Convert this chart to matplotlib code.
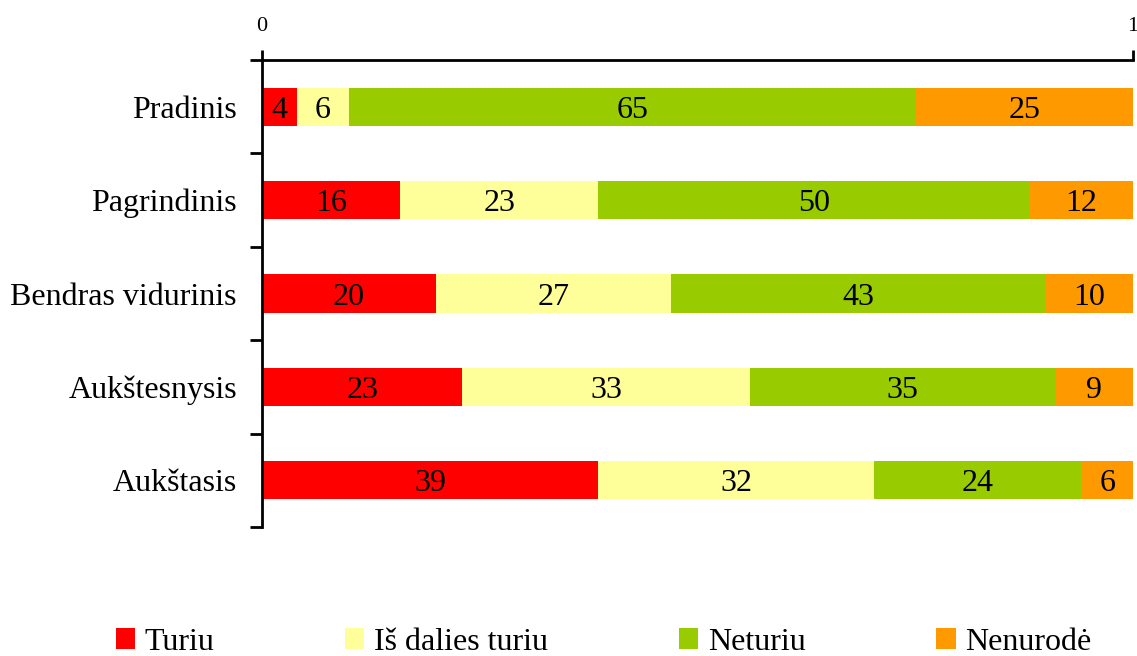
import numpy as np
import matplotlib.pyplot as plt
from matplotlib.patches import Patch

plt.rcParams['font.family'] = ['Liberation Serif', 'DejaVu Serif']

categories = ['Pradinis', 'Pagrindinis', 'Bendras vidurinis', 'Aukštesnysis', 'Aukštasis']
series_names = ['Turiu', 'Iš dalies turiu', 'Neturiu', 'Nenurodė']
turiu = [4, 16, 20, 23, 39]
is_dalies = [6, 23, 27, 33, 32]
neturiu = [65, 50, 43, 35, 24]
nenurode = [25, 12, 10, 9, 6]
colors = ['#FF0000', '#FFFF99', '#99CC00', '#FF9900']

values = np.array([turiu, is_dalies, neturiu, nenurode], dtype=float)
totals = values.sum(axis=0)
shares = values / totals

fig = plt.figure(figsize=(11.37, 6.56), dpi=100)
ax = fig.add_axes([262 / 1137, 1 - 527 / 656, (1133 - 262) / 1137, (527 - 60) / 656])

y = np.arange(len(categories))
left = np.zeros(len(categories))
for i in range(len(series_names)):
    ax.barh(y, shares[i], left=left, height=0.41, color=colors[i], edgecolor='none')
    for j in range(len(categories)):
        ax.text(left[j] + shares[i][j] / 2, y[j], '%d' % values[i][j],
                ha='center', va='center_baseline', fontsize=23, color='black')
    left += shares[i]

ax.set_xlim(0, 1)
ax.set_ylim(len(categories) - 0.5, -0.5)

ax.xaxis.tick_top()
ax.set_xticks([0, 1])
ax.set_xticklabels(['0', '1'], fontsize=16)
ax.tick_params(axis='x', direction='out', length=7, width=2, pad=10)

ax.set_yticks(np.arange(-0.5, len(categories) + 0.5, 1))
ax.set_yticklabels([])
ax.set_yticks(y, minor=True)
ax.set_yticklabels(categories, minor=True, fontsize=23)
ax.tick_params(axis='y', which='major', direction='out', length=9, width=2)
ax.tick_params(axis='y', which='minor', length=0, pad=18)

ax.spines['right'].set_visible(False)
ax.spines['bottom'].set_visible(False)
ax.spines['left'].set_linewidth(2)
ax.spines['top'].set_linewidth(2)

handles = [Patch(facecolor=c, edgecolor='none') for c in colors]
fig.legend(handles, series_names, loc='center', bbox_to_anchor=(0.5308, 0.021), ncol=4,
           frameon=False, fontsize=23, columnspacing=4.1, handlelength=0.6,
           handleheight=0.6, handletextpad=0.3, borderpad=0)

fig.savefig('out.png', dpi=100)
